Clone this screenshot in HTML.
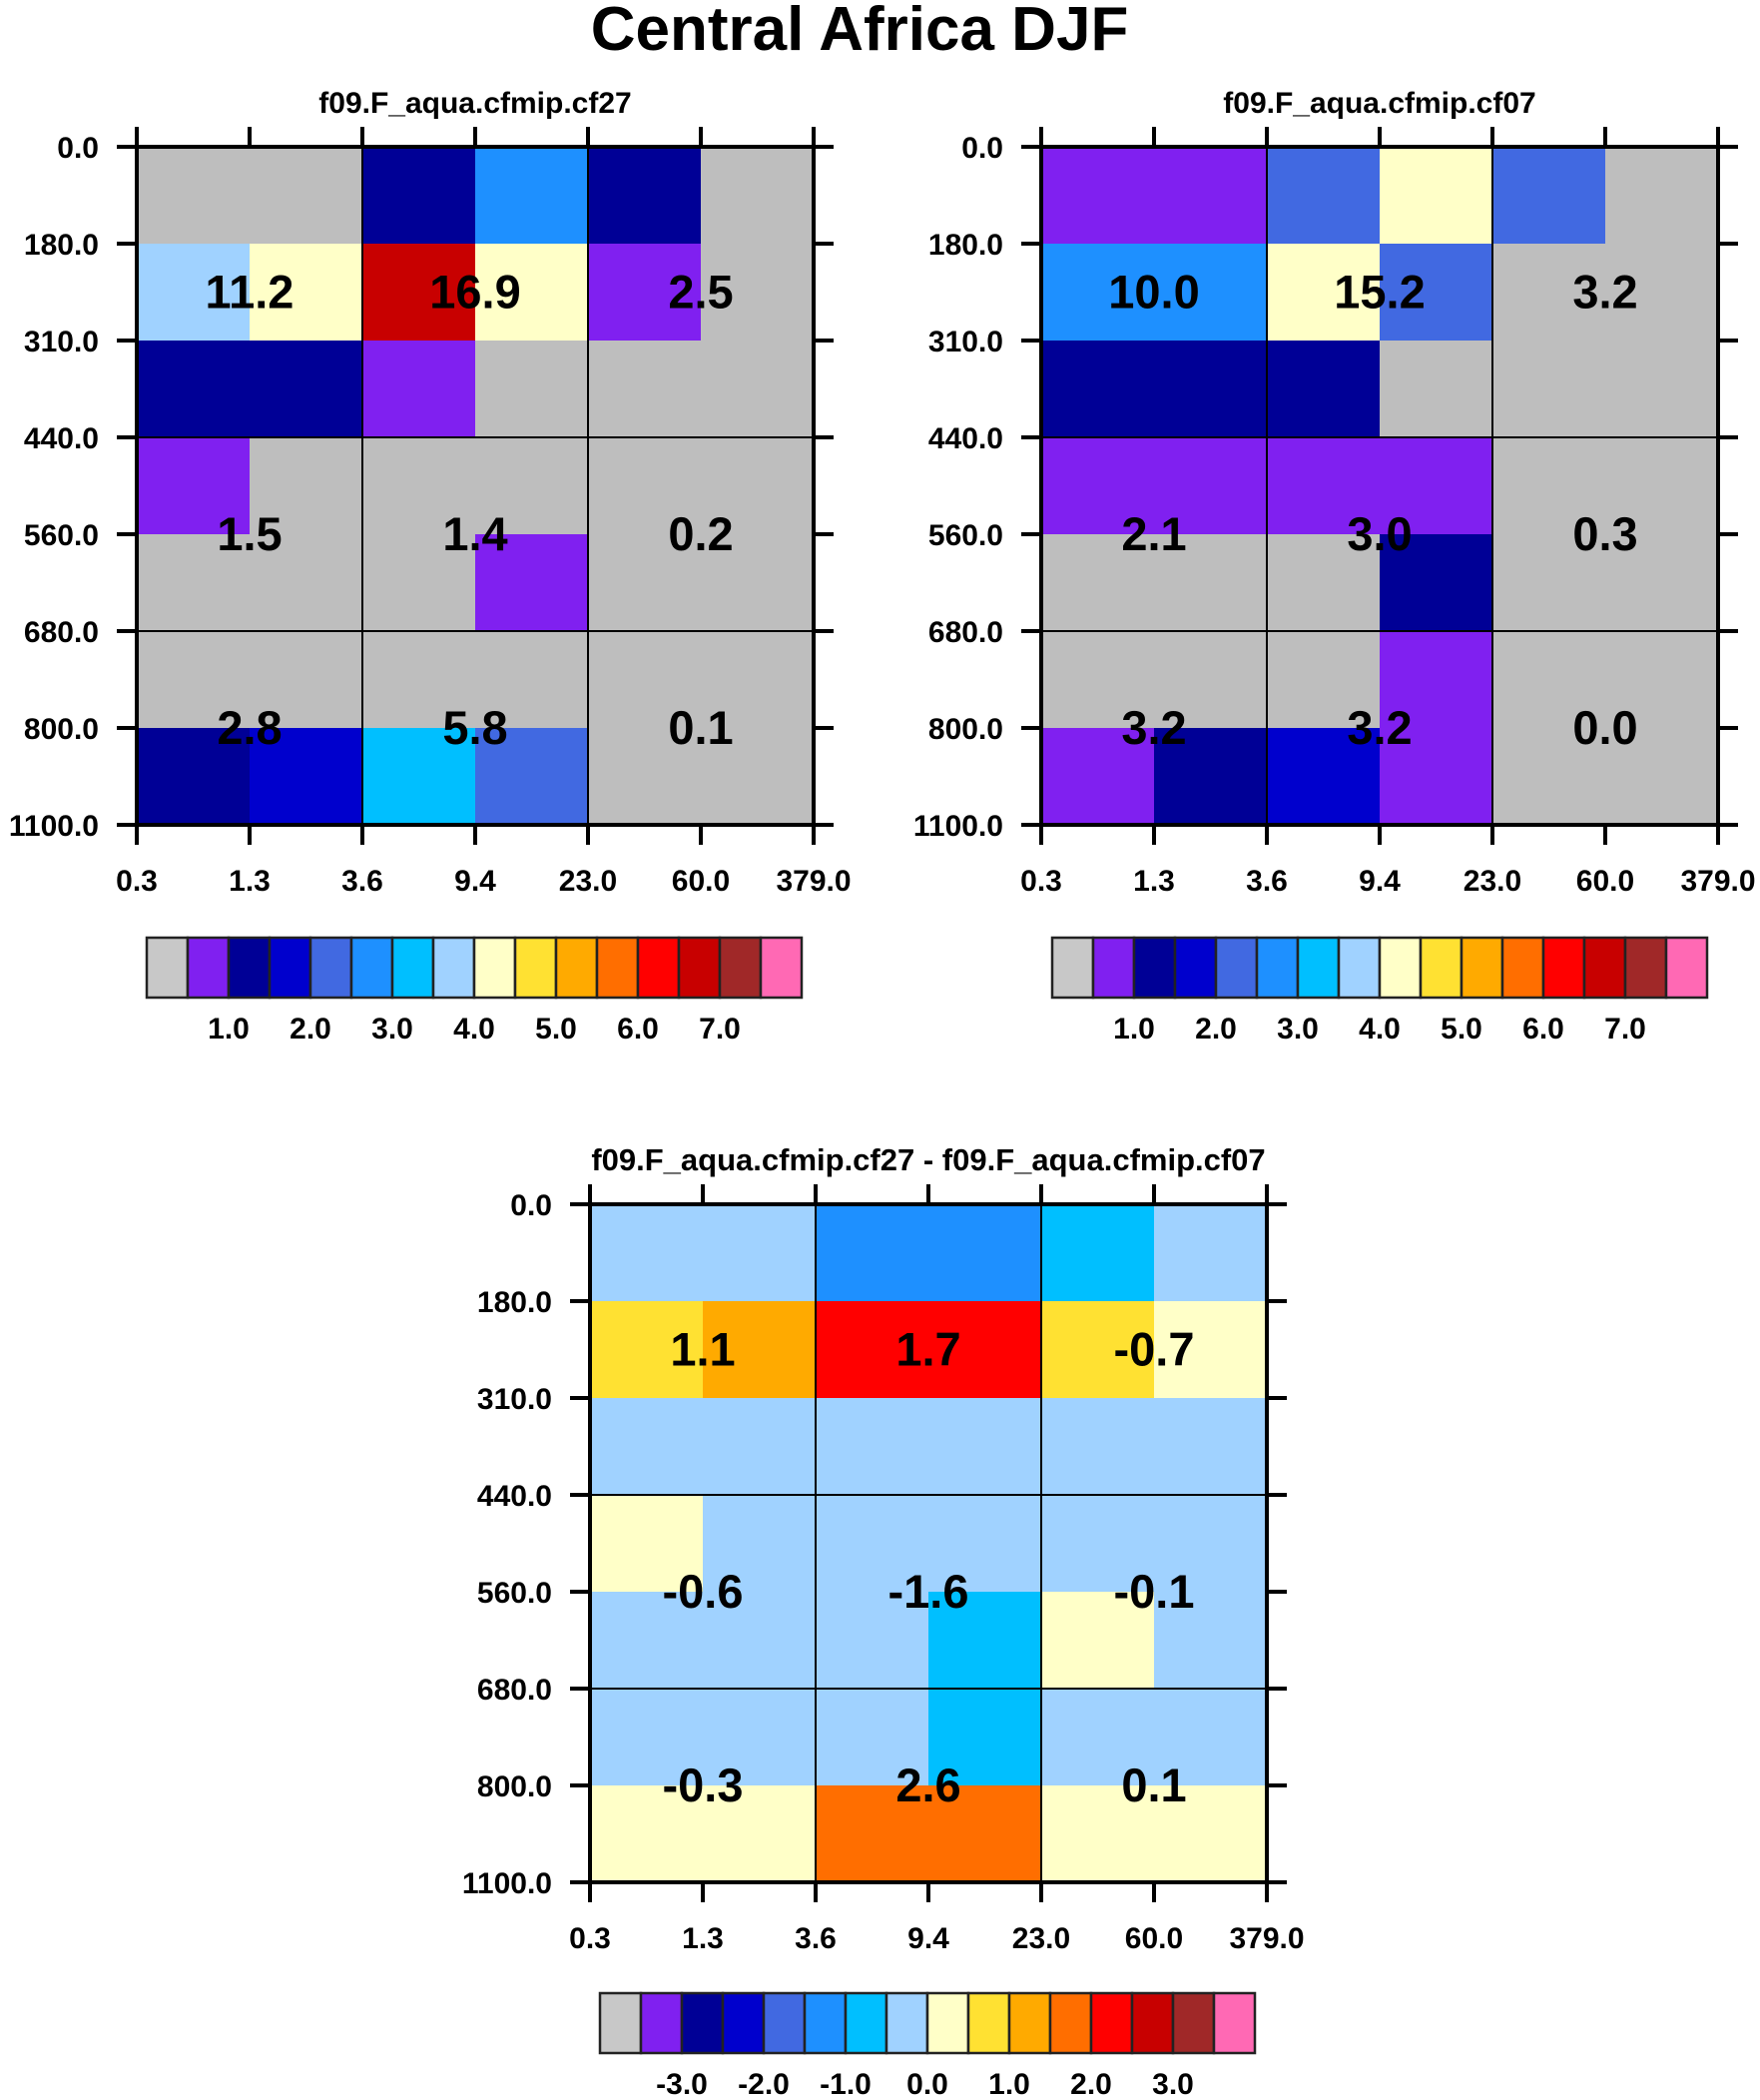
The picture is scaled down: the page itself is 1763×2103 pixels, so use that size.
<!DOCTYPE html>
<html><head><meta charset="utf-8"><style>
html,body{margin:0;padding:0;background:#fff;}
svg{display:block;font-family:"Liberation Sans",sans-serif;font-weight:bold;}
</style></head><body>
<svg id="chart" width="1763" height="2103" viewBox="0 0 1763 2103" xmlns="http://www.w3.org/2000/svg">
<text x="861" y="50" font-size="62" text-anchor="middle">Central Africa DJF</text>
</svg>
<script>
const COLORS = ["#bebebe","#8020f0","#000096","#0000cd","#4169e1","#1e90ff","#00bfff","#a0d2ff","#ffffc8","#ffe132","#ffaa00","#ff6e00","#ff0000","#c80000","#a02828","#ff69b4"];
const xTicks = ["0.3","1.3","3.6","9.4","23.0","60.0","379.0"];
const yTicks = ["0.0","180.0","310.0","440.0","560.0","680.0","800.0","1100.0"];
const cbLabelsAbs = ["1.0","2.0","3.0","4.0","5.0","6.0","7.0"];
const cbLabelsDiff = ["-3.0","-2.0","-1.0","0.0","1.0","2.0","3.0"];
const cells1 = [[0,0,2,5,2,0],[7,8,13,8,1,0],[2,2,1,0,0,0],[1,0,0,0,0,0],[0,0,0,1,0,0],[0,0,0,0,0,0],[2,3,6,4,0,0]];
const cells2 = [[1,1,4,8,4,0],[5,5,8,4,0,0],[2,2,2,0,0,0],[1,1,1,1,0,0],[0,0,0,2,0,0],[0,0,0,1,0,0],[1,2,3,1,0,0]];
const cells3 = [[7,7,5,5,6,7],[9,10,12,12,9,8],[7,7,7,7,7,7],[8,7,7,7,7,7],[7,7,7,6,8,7],[7,7,7,6,7,7],[8,8,11,11,8,8]];
const vals1 = [["11.2","16.9","2.5"],["1.5","1.4","0.2"],["2.8","5.8","0.1"]];
const vals2 = [["10.0","15.2","3.2"],["2.1","3.0","0.3"],["3.2","3.2","0.0"]];
const vals3 = [["1.1","1.7","-0.7"],["-0.6","-1.6","-0.1"],["-0.3","2.6","0.1"]];

const NS="http://www.w3.org/2000/svg";
const svg=document.getElementById('chart');
function mk(tag,attrs,parent){const e=document.createElementNS(NS,tag);for(const k in attrs)e.setAttribute(k,attrs[k]);(parent||svg).appendChild(e);return e;}

function panel(name,x0,y0,title,cells,vals,tfs){
  const g=mk('g',{});
  
  
  const cw=113, rh=97;
  const xs=i=>x0+i*cw, ys=j=>y0+j*rh;
  cells.forEach((row,j)=>row.forEach((c,i)=>{
    const r=mk('rect',{x:xs(i),y:ys(j),width:cw+0.5,height:rh+0.5,fill:COLORS[c]},g);
    
    
  }));
  [2,4].forEach(i=>mk('line',{x1:xs(i),x2:xs(i),y1:ys(0),y2:ys(7),stroke:'#000','stroke-width':2},g));
  [3,5].forEach(j=>mk('line',{x1:xs(0),x2:xs(6),y1:ys(j),y2:ys(j),stroke:'#000','stroke-width':2},g));
  mk('rect',{x:xs(0),y:ys(0),width:6*cw,height:7*rh,fill:'none',stroke:'#000','stroke-width':4},g);
  xTicks.forEach((t,i)=>{
    mk('line',{x1:xs(i),x2:xs(i),y1:ys(7),y2:ys(7)+20,stroke:'#000','stroke-width':4},g);
    mk('line',{x1:xs(i),x2:xs(i),y1:ys(0),y2:ys(0)-20,stroke:'#000','stroke-width':4},g);
    const tx=mk('text',{x:xs(i),y:ys(7)+66,'font-size':30,'text-anchor':'middle'},g);tx.textContent=t;
    
    
  });
  yTicks.forEach((t,j)=>{
    mk('line',{x1:xs(0),x2:xs(0)-20,y1:ys(j),y2:ys(j),stroke:'#000','stroke-width':4},g);
    mk('line',{x1:xs(6),x2:xs(6)+20,y1:ys(j),y2:ys(j),stroke:'#000','stroke-width':4},g);
    const tx=mk('text',{x:xs(0)-38,y:ys(j)+11,'font-size':30,'text-anchor':'end'},g);tx.textContent=t;
    
    
  });
  const rowsY=[ys(1.5),ys(4),ys(6)];
  vals.forEach((row,j)=>row.forEach((v,i)=>{
    const tx=mk('text',{x:xs(1+2*i),y:rowsY[j]+16,'font-size':47,'text-anchor':'middle'},g);tx.textContent=v;
    
    
  }));
  const tt=mk('text',{x:xs(3),y:ys(0)-34,'font-size':tfs,'text-anchor':'middle'},g);tt.textContent=title;
  
  
}
function colorbar(name,x0,y0,labels){
  const g=mk('g',{});
  
  
  const bw=41,bh=60;
  COLORS.forEach((c,i)=>{
    const r=mk('rect',{x:x0+i*bw,y:y0,width:bw,height:bh,fill:i==0?'#c8c8c8':c,stroke:'#222','stroke-width':2.5},g);
    
    
  });
  labels.forEach((l,k)=>{
    const tx=mk('text',{x:x0+(2+2*k)*bw,y:y0+bh+41,'font-size':30,'text-anchor':'middle'},g);tx.textContent=l;
    
    
  });
}
panel('panel-cf27',137,147,'f09.F_aqua.cfmip.cf27',cells1,vals1,30);
panel('panel-cf07',1043,147,'f09.F_aqua.cfmip.cf07',cells2,vals2,30);
panel('panel-diff',591,1206,'f09.F_aqua.cfmip.cf27 - f09.F_aqua.cfmip.cf07',cells3,vals3,31);
colorbar('colorbar-cf27',147,939,cbLabelsAbs);
colorbar('colorbar-cf07',1054,939,cbLabelsAbs);
colorbar('colorbar-diff',601,1996,cbLabelsDiff);
</script>
</body></html>
